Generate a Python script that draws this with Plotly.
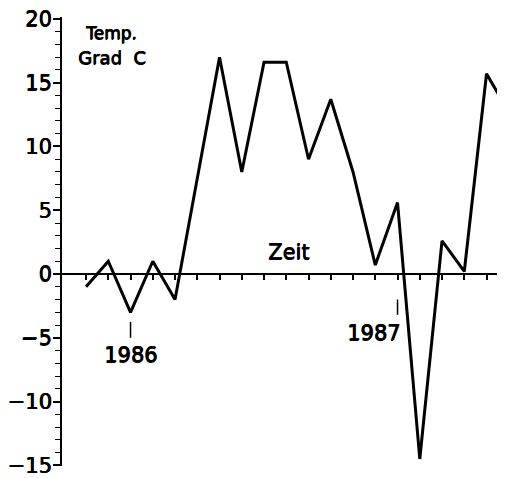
import plotly.graph_objects as go

# Monthly temperature readings (Grad C); 1986 at index 2, 1987 at index 14
month_index = list(range(20))
temperature = [-1, 1, -3, 1, -2, 7.5, 17, 8, 16.6, 16.6, 9, 13.7, 8, 0.7, 5.6, -14.5, 2.6, 0.2, 15.7, 12.7]

year_labels = ["1986", "1987"]
year_index = [2, 14]

y_tick_vals = [-15, -10, -5, 0, 5, 10, 15, 20]

FONT = "DejaVu Sans"
THICK = "0.7px 0px 0px black, 0px 0.5px 0px black"
TXT = dict(family=FONT, color="black", size=21, shadow=THICK)

fig = go.Figure()
fig.add_trace(go.Scatter(
    x=month_index, y=temperature, mode="lines",
    line=dict(color="black", width=3), hoverinfo="skip", showlegend=False,
))

y_range = [-15.05, 20.15]
zero_pos = (0 - y_range[0]) / (y_range[1] - y_range[0])

# page body has an 8px default margin, so the figure is offset by (8, 8)
fig.update_layout(
    width=497, height=470,
    margin=dict(l=54, r=0, t=9, b=12),
    paper_bgcolor="white", plot_bgcolor="white",
    font=TXT,
    xaxis=dict(
        range=[-1.08, 18.83], showgrid=False, zeroline=False, automargin=False,
        showline=True, linecolor="black", linewidth=2,
        anchor="free", position=zero_pos,
        ticks="outside", tickvals=month_index, ticklen=5, tickwidth=1.5, tickcolor="black",
        showticklabels=False,
    ),
    yaxis=dict(
        range=y_range, showgrid=False, zeroline=False, automargin=False,
        showline=True, linecolor="black", linewidth=2,
        ticks="outside", tickvals=y_tick_vals, ticklen=7, tickwidth=1.5, tickcolor="black",
        tickfont=TXT, ticklabeloverflow="allow", ticklabelstandoff=-3,
        minor=dict(ticks="outside", dtick=1, ticklen=5, tickwidth=1.2, tickcolor="black"),
    ),
)

# year markers
fig.add_shape(type="line", xref="x", yref="y", x0=year_index[0], x1=year_index[0], y0=-3.75, y1=-5.0,
              line=dict(color="black", width=1.5))
fig.add_annotation(x=year_index[0], y=-6.35, text=year_labels[0], showarrow=False,
                   xanchor="center", yanchor="middle", font=TXT)
fig.add_shape(type="line", xref="x", yref="y", x0=year_index[1], x1=year_index[1], y0=-2.0, y1=-3.2,
              line=dict(color="black", width=1.5))
fig.add_annotation(x=14.2, y=-4.6, text=year_labels[1], showarrow=False,
                   xanchor="right", yanchor="middle", font=TXT)

# axis titles
fig.add_annotation(x=-0.12, y=18.9, text="Temp.", showarrow=False,
                   xanchor="left", yanchor="middle", font=dict(size=17, shadow=THICK))
fig.add_annotation(x=-0.45, y=17.0, text="Grad  C", showarrow=False,
                   xanchor="left", yanchor="middle", font=dict(size=18, shadow=THICK))
fig.add_annotation(x=9.12, y=1.72, text="Zeit", showarrow=False, xanchor="center", yanchor="middle",
                   font=dict(size=21, shadow=THICK))

fig.write_html("out.html")
